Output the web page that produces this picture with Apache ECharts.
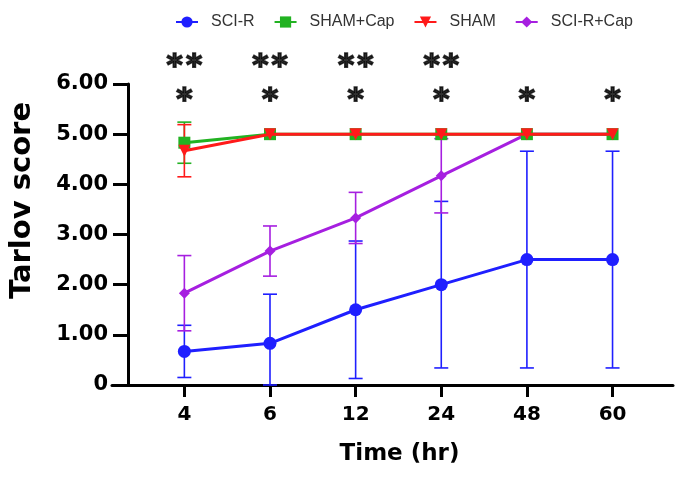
<!DOCTYPE html>
<html>
<head>
<meta charset="utf-8">
<script src="https://cdn.jsdelivr.net/npm/echarts@6.0.0/dist/echarts.min.js"></script>
<style>html,body{margin:0;padding:0;background:#fff;}#c{width:680px;height:477px;}</style>
</head>
<body>
<div id="c"></div>
<script>
const timeLabels = ['4', '6', '12', '24', '48', '60'];
const seriesNames = ['SCI-R', 'SHAM+Cap', 'SHAM', 'SCI-R+Cap'];
const sciR = [0.67, 0.83, 1.5, 2.0, 2.5, 2.5];
const sciRSd = [0.52, 0.98, 1.37, 1.66, 2.16, 2.16];
const shamCap = [4.83, 5, 5, 5, 5, 5];
const shamCapSd = [0.41, 0, 0, 0, 0, 0];
const sham = [4.67, 5, 5, 5, 5, 5];
const shamSd = [0.52, 0, 0, 0, 0, 0];
const sciRCap = [1.83, 2.67, 3.33, 4.17, 5, 5];
const sciRCapSd = [0.75, 0.5, 0.51, 0.74, 0, 0];
const sigDouble = ['*\u200A*', '*\u200A*', '*\u200A*', '*\u200A*', '', ''];
const sigSingle = ['*', '*', '*', '*', '*', '*'];
const sigDoubleLevel = 6.34;
const sigSingleLevel = 5.66;

const colors = { 'SCI-R': '#1f1fff', 'SHAM+Cap': '#22b222', 'SHAM': '#ff1a1a', 'SCI-R+Cap': '#a61fe0' };
const FONT = 'DejaVu Sans';

function errSeries(name, mean, sd, z) {
  const data = [];
  mean.forEach((m, i) => { if (sd[i] > 0) data.push([i, Math.max(0, m - sd[i]), m + sd[i]]); });
  const color = colors[name];
  return {
    type: 'custom', name: name + ' err', silent: true, z: z, clip: false,
    encode: { x: 0, y: [1, 2] },
    data: data,
    renderItem: function (params, api) {
      const i = api.value(0);
      const top = api.coord([i, api.value(2)]);
      const bot = api.coord([i, api.value(1)]);
      const w = 7;
      const st = { stroke: color, lineWidth: 1.6 };
      return {
        type: 'group', children: [
          { type: 'line', shape: { x1: top[0], y1: top[1], x2: bot[0], y2: bot[1] }, style: st },
          { type: 'line', shape: { x1: top[0] - w, y1: top[1], x2: top[0] + w, y2: top[1] }, style: st },
          { type: 'line', shape: { x1: bot[0] - w, y1: bot[1], x2: bot[0] + w, y2: bot[1] }, style: st }
        ]
      };
    }
  };
}
function lineSeries(name, vals, symbol, size, z, rot) {
  return {
    type: 'line', name: name, z: z, symbol: symbol, symbolSize: size, symbolRotate: rot || 0,
    data: vals.map((v, i) => [i, v]),
    lineStyle: { color: colors[name], width: 3 },
    itemStyle: { color: colors[name] },
    emphasis: { disabled: true }
  };
}
function sigSeries(texts, level) {
  return {
    type: 'scatter', silent: true, clip: false, z: 10, symbolSize: 1,
    itemStyle: { color: 'rgba(0,0,0,0)' },
    data: texts.map((t, i) => [i, level, t]).filter(d => d[2] !== ''),
    label: {
      show: true, position: 'inside', formatter: p => p.value[2],
      fontFamily: FONT, fontWeight: 'bold', fontSize: 31, color: '#000',
      textBorderColor: '#000', textBorderWidth: 1.6
    }
  };
}

const chart = echarts.init(document.getElementById('c'), null, { renderer: 'canvas' });
chart.setOption({
  animation: false,
  backgroundColor: '#fff',
  legend: {
    data: seriesNames, left: 175, top: 14, padding: 0, itemWidth: 22, itemHeight: 14, itemGap: 19,
    textStyle: { fontFamily: 'Liberation Sans', fontSize: 16, color: '#333', padding: [0, 0, 0, 8] }
  },
  grid: { left: 107, right: 7, top: 84, bottom: 92, containLabel: false },
  xAxis: {
    type: 'value', min: -0.845, max: 5.706,
    name: 'Time (hr)', nameLocation: 'middle', nameGap: 58,
    nameTextStyle: { fontFamily: FONT, fontWeight: 'bold', fontSize: 23, color: '#000', padding: [0, 0, 0, 14] },
    axisLine: { lineStyle: { color: '#000', width: 3 } },
    axisTick: { customValues: [0, 1, 2, 3, 4, 5], length: 12, lineStyle: { color: '#000', width: 3 } },
    axisLabel: {
      customValues: [0, 1, 2, 3, 4, 5], formatter: v => timeLabels[Math.round(v)],
      margin: 20, fontFamily: FONT, fontWeight: 'bold', fontSize: 20, color: '#000'
    },
    splitLine: { show: false }
  },
  yAxis: {
    type: 'value', min: 0, max: 6, interval: 1, offset: -16,
    name: 'Tarlov score', nameLocation: 'middle', nameGap: 91,
    nameTextStyle: { fontFamily: FONT, fontWeight: 'bold', fontSize: 29, color: '#000', padding: [0, 0, 0, 68] },
    axisLine: { show: true, onZero: false, lineStyle: { color: '#000', width: 3 } },
    axisTick: { show: true, length: 15, lineStyle: { color: '#000', width: 3 } },
    axisLabel: {
      formatter: v => v === 0 ? '0' : v.toFixed(2), margin: 20,
      fontFamily: FONT, fontWeight: 'bold', fontSize: 21, color: '#000'
    },
    splitLine: { show: false }
  },
  series: [
    errSeries('SCI-R', sciR, sciRSd, 1),
    errSeries('SCI-R+Cap', sciRCap, sciRCapSd, 1),
    errSeries('SHAM+Cap', shamCap, shamCapSd, 1),
    errSeries('SHAM', sham, shamSd, 1),
    lineSeries('SCI-R', sciR, 'circle', 13, 3),
    lineSeries('SCI-R+Cap', sciRCap, 'diamond', 11, 4),
    lineSeries('SHAM+Cap', shamCap, 'rect', 12, 5),
    lineSeries('SHAM', sham, 'triangle', 12, 6, 180),
    sigSeries(sigDouble, sigDoubleLevel),
    sigSeries(sigSingle, sigSingleLevel)
  ]
});
</script>
</body>
</html>
